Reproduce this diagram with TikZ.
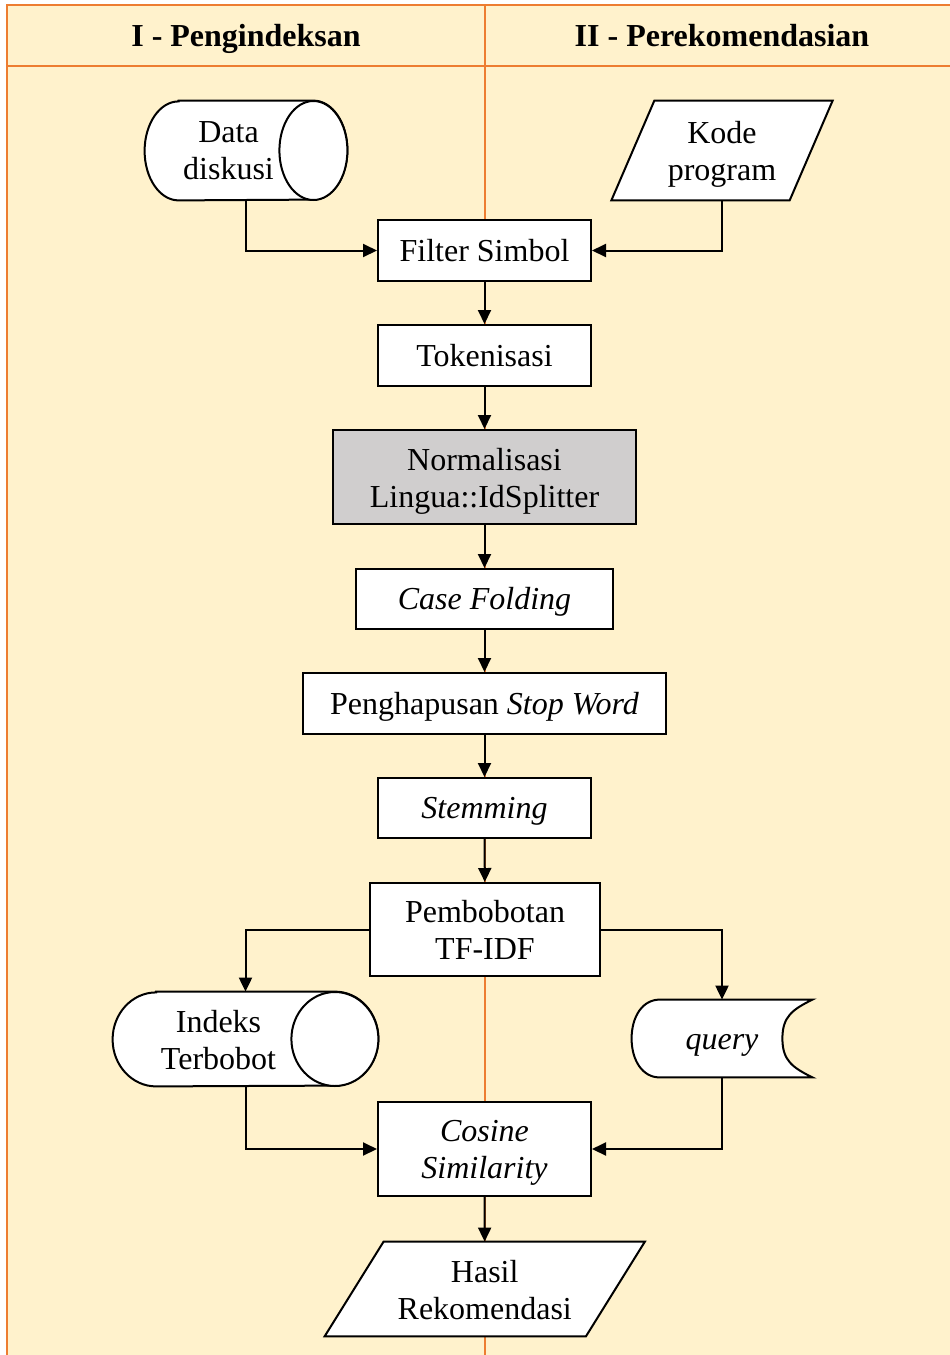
\documentclass[tikz,border=0pt]{standalone}
\usepackage{fontspec}
\setmainfont{Liberation Serif}
\usetikzlibrary{arrows.meta,calc}
\definecolor{bgyellow}{HTML}{FFF2CC}
\definecolor{lineorange}{HTML}{ED7D31}
\definecolor{procgray}{HTML}{D0CECE}
\newcommand{\nstrut}{\rule[-3.5pt]{0pt}{17.9pt}}
\pgfdeclarelayer{bglayer}
\pgfdeclarelayer{shapelayer}
\pgfsetlayers{bglayer,shapelayer,main}
\begin{document}
\begin{tikzpicture}[x=0.5pt,y=-0.5pt,
  every node/.style={font=\fontsize{16}{18.5}\selectfont, align=center, inner sep=0pt,
    execute at begin node=\nstrut},
  mtext/.style={yshift=-2pt},
  proc/.style={draw, line width=1pt, fill=white, rectangle},
  plain/.style={rectangle},
  outline/.style={draw, line width=1pt, fill=white, line join=miter},
  flow/.style={line width=1pt, -{Triangle[length=7pt,width=6.5pt]}},
  lane/.style={draw=lineorange, line width=1.3pt},
  header/.style={font=\fontsize{16}{18.5}\selectfont\bfseries},
]
\useasboundingbox (0,0) rectangle (949,1355);
\begin{pgfonlayer}{bglayer}
\fill[bgyellow] (7,5) rectangle (952,1358);
\draw[lane] (7,1358) -- (7,5) -- (952,5);
\draw[lane] (7,66) -- (952,66);
\draw[lane] (485,5) -- (485,1358);
\end{pgfonlayer}

% headers
\node[header] (h1) at (246,35.5) {I - Pengindeksan};
\node[header] (h2) at (722,35.5) {II - Perekomendasian};

% shapes
\node[plain, minimum width=101pt, minimum height=49.5pt] (dd) at (246,150.5) {};
\node[plain, minimum width=88.75pt, minimum height=49.5pt] (kp) at (722,150.5) {};
\node[proc, minimum width=106.5pt, minimum height=30.5pt] (fs) at (484.5,250.5) {Filter Simbol};
\node[proc, minimum width=106.5pt, minimum height=30.5pt] (tk) at (484.5,355.5) {Tokenisasi};
\node[proc, fill=procgray, minimum width=151.5pt, minimum height=47pt] (nm) at (484.5,477) {};
\node[proc, minimum width=128.5pt, minimum height=30pt] (cf) at (484.5,599) {\textit{Case Folding}};
\node[proc, minimum width=181.5pt, minimum height=30.5pt] (sw) at (484.5,703.5) {Penghapusan \textit{Stop Word}};
\node[proc, minimum width=106.5pt, minimum height=30pt] (st) at (484.5,808) {\textit{Stemming}};
\node[proc, minimum width=115pt, minimum height=46.5pt] (tf) at (485,929.5) {};
\node[plain, minimum width=132.5pt, minimum height=47pt] (it) at (245.5,1039) {};
\node[plain, minimum width=90pt, minimum height=38.5pt] (q) at (722,1038.5) {\textit{query}};
\node[proc, minimum width=106.5pt, minimum height=47pt] (cs) at (484.5,1149) {};
\node[plain, minimum width=130.25pt, minimum height=47pt] (hr) at (484.75,1289) {};

% custom outlines
\begin{pgfonlayer}{shapelayer}
% Data diskusi cylinder
\draw[outline] ($(dd.north west)+(34,0)$) -- ($(dd.north east)+(-34,0)$)
  arc[start angle=90, end angle=-90, x radius=17pt, y radius=24.75pt]
  -- ($(dd.south west)+(34,0)$)
  arc[start angle=270, end angle=90, x radius=17pt, y radius=24.75pt] -- cycle;
\draw[outline] ($(dd.east)+(-34,0)$) ellipse[x radius=17pt, y radius=24.75pt];
% Indeks Terbobot cylinder
\draw[outline] ($(it.north west)+(43.5,0)$) -- ($(it.north east)+(-43.5,0)$)
  arc[start angle=90, end angle=-90, x radius=21.75pt, y radius=23.5pt]
  -- ($(it.south west)+(43.5,0)$)
  arc[start angle=270, end angle=90, x radius=21.75pt, y radius=23.5pt] -- cycle;
\draw[outline] ($(it.east)+(-43.5,0)$) ellipse[x radius=21.75pt, y radius=23.5pt];
% parallelograms
\draw[outline] ($(kp.north west)+(21.5,0)$) -- ($(kp.north east)+(21.5,0)$) -- ($(kp.south east)+(-21.5,0)$) -- ($(kp.south west)+(-21.5,0)$) -- cycle;
\draw[outline] ($(hr.north west)+(29.5,0)$) -- ($(hr.north east)+(29.5,0)$) -- ($(hr.south east)+(-29.5,0)$) -- ($(hr.south west)+(-29.5,0)$) -- cycle;
% stored data (query)
\draw[outline] ($(q.north west)+(28,0)$) -- (q.north east)
  .. controls +(-20,10) and +(0,-22) .. ($(q.east)+(-30,0)$)
  .. controls +(0,22) and +(-20,-10) .. (q.south east)
  -- ($(q.south west)+(28,0)$)
  .. controls +(-17,0) and +(0,22) .. (q.west)
  .. controls +(0,-22) and +(-17,0) .. ($(q.north west)+(28,0)$) -- cycle;
\end{pgfonlayer}

% two-line texts
\node[plain, mtext] (ddt) at (228.5,150.5) {Data\\diskusi};
\node[plain, mtext] (kpt) at (kp.center) {Kode\\program};
\node[plain, mtext] (nmt) at (nm.center) {Normalisasi\\Lingua::IdSplitter};
\node[plain, mtext] (tft) at (tf.center) {Pembobotan\\TF-IDF};
\node[plain, mtext] (itt) at (218.5,1039) {Indeks\\Terbobot};
\node[plain, mtext] (cst) at (cs.center) {\textit{Cosine}\\\textit{Similarity}};
\node[plain, mtext] (hrt) at (hr.center) {Hasil\\Rekomendasi};

% connectors
\draw[flow] (dd.south) |- (fs.west);
\draw[flow] (kp.south) |- (fs.east);
\draw[flow] (fs) -- (tk);
\draw[flow] (tk) -- (nm);
\draw[flow] (nm) -- (cf);
\draw[flow] (cf) -- (sw);
\draw[flow] (sw) -- (st);
\draw[flow] (st) -- (tf);
\draw[flow] (tf.west) -| (it.north);
\draw[flow] (tf.east) -| (q.north);
\draw[flow] (it.south) |- (cs.west);
\draw[flow] (q.south) |- (cs.east);
\draw[flow] (cs) -- (hr);
\end{tikzpicture}
\end{document}
